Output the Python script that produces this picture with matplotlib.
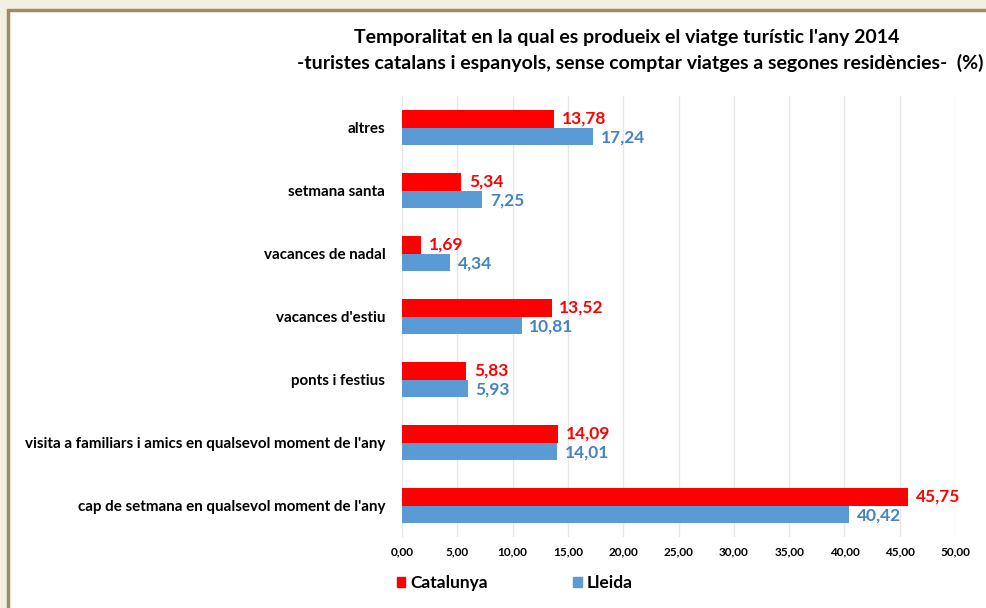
import matplotlib.pyplot as plt
import matplotlib.patches as mpatches
import numpy as np

categories = ["altres", "setmana santa", "vacances de nadal", "vacances d'estiu",
              "ponts i festius", "visita a familiars i amics en qualsevol moment de l'any",
              "cap de setmana en qualsevol moment de l'any"]
catalunya = [13.78, 5.34, 1.69, 13.52, 5.83, 14.09, 45.75]
lleida = [17.24, 7.25, 4.34, 10.81, 5.93, 14.01, 40.42]
xticks = np.arange(0, 55, 5)

plt.rcParams['font.family'] = ['Lato', 'DejaVu Sans']

red = '#ff0000'
blue = '#5b9bd5'
blue_txt = '#4383c6'

fig = plt.figure(figsize=(9.86, 6.08), dpi=100)
fig.patch.set_facecolor('#f2f0e3')

# slide frame
frame = mpatches.Rectangle((8 / 986, -0.01), 1.0, 1 - 10 / 608 + 0.01,
                           transform=fig.transFigure, facecolor='white',
                           edgecolor='#a48a63', linewidth=2.5, zorder=0)
fig.patches.append(frame)

ax = fig.add_axes([402 / 986, 71 / 608, 553 / 986, 441 / 608])
ax.set_zorder(2)
ax.set_facecolor('white')

n = len(categories)
y = np.arange(n)
h = 0.27
ax.barh(y - h / 2, catalunya, height=h, color=red, zorder=3)
ax.barh(y + h / 2, lleida, height=h, color=blue, zorder=3)

def fmt(v):
    return f"{v:.2f}".replace('.', ',')

for i in range(n):
    ax.text(catalunya[i] + 0.7, y[i] - h / 2, fmt(catalunya[i]), color=red,
            fontsize=12.5, fontweight='bold', va='center', ha='left')
    ax.text(lleida[i] + 0.7, y[i] + h / 2 + 0.02, fmt(lleida[i]), color=blue_txt,
            fontsize=12.5, fontweight='bold', va='center', ha='left')

ax.set_ylim(n - 0.5, -0.5)
ax.set_yticks(y)
ax.set_yticklabels(categories, fontsize=10.9, fontweight='bold')
ax.set_xlim(0, 50)
ax.set_xticks(xticks)
ax.set_xticklabels([fmt(v) for v in xticks], fontsize=8.5, fontweight='bold')
ax.tick_params(axis='both', length=0)
ax.tick_params(axis='x', pad=7)
ax.tick_params(axis='y', pad=12)
ax.grid(axis='x', color='#e6e6e6', linewidth=1, zorder=0)
for s in ax.spines.values():
    s.set_visible(False)

fig.text(627 / 986, 1 - 38 / 608, "Temporalitat en la qual es produeix el viatge turístic l'any 2014",
         ha='center', va='center', fontsize=14, fontweight='bold')
fig.text(640 / 986, 1 - 63 / 608,
         "-turistes catalans i espanyols, sense comptar viatges a segones residències-  (%)",
         ha='center', va='center', fontsize=14, fontweight='bold')

handles = [mpatches.Patch(color=red, label='Catalunya'),
           mpatches.Patch(color=blue, label='Lleida')]
leg = fig.legend(handles=handles, loc='center left', bbox_to_anchor=(381 / 986, 1 - 583 / 608),
                 ncol=2, frameon=False, handlelength=0.5, handleheight=0.5,
                 handletextpad=0.3, columnspacing=4.9, prop={'size': 12.5, 'weight': 'bold'})

fig.savefig('out.png', dpi=100, facecolor=fig.get_facecolor())
